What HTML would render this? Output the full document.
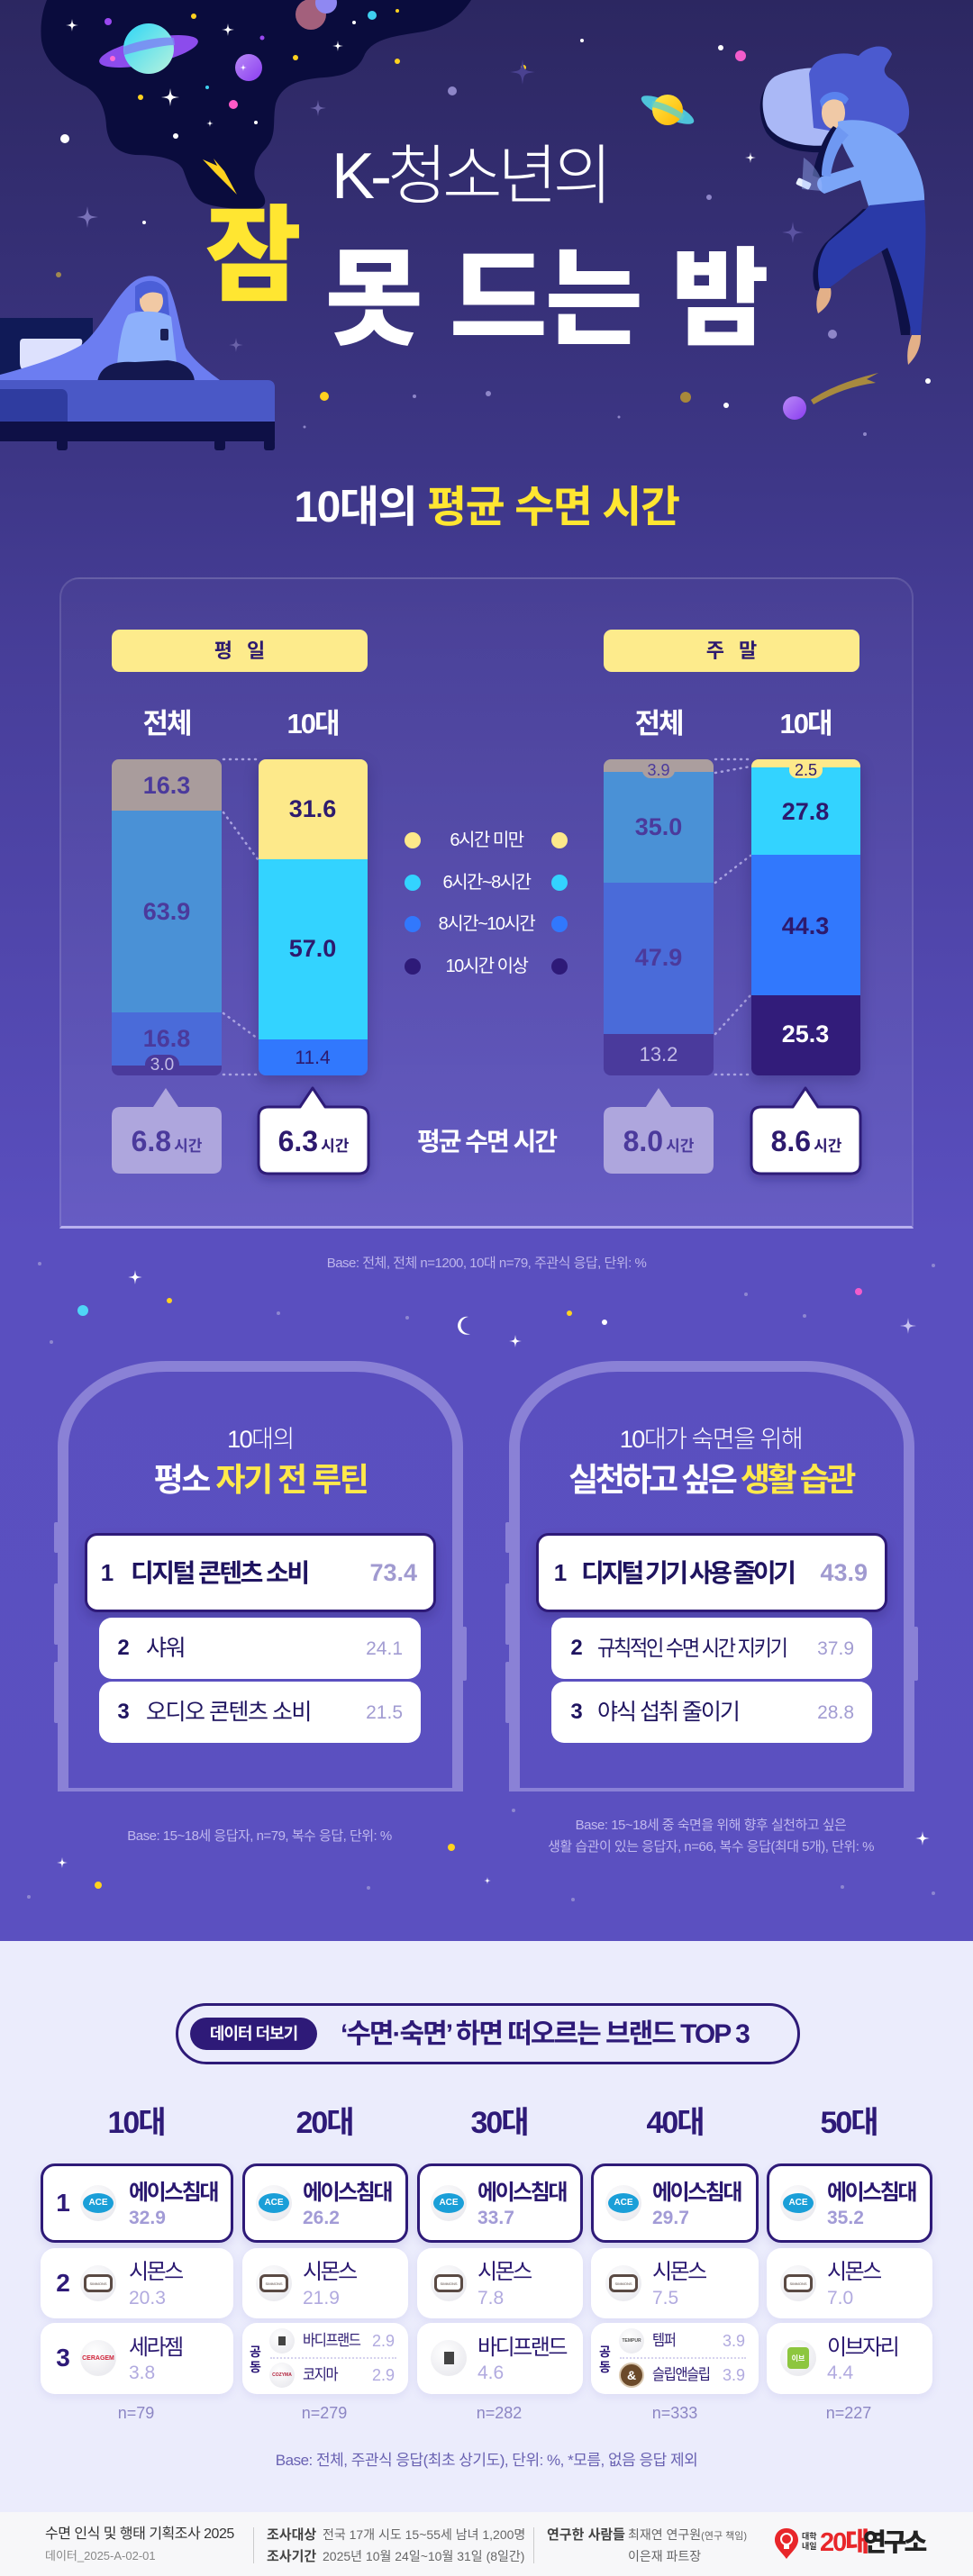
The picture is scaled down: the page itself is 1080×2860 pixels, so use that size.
<!DOCTYPE html>
<html><head><meta charset="utf-8">
<style>
*{margin:0;padding:0;box-sizing:border-box}
html,body{width:1080px;height:2860px;overflow:hidden}
body{font-family:"Liberation Sans","Noto Sans CJK KR",sans-serif;position:relative;background:#ebecfc}
.a{position:absolute;white-space:nowrap;line-height:1}
.c{transform:translateX(-50%)}
.sq{transform-origin:0 50%}
.bar{position:absolute;top:843px;height:351px;border-radius:8px;overflow:hidden;display:flex;flex-direction:column}
.bar div{flex:none}
.nb{font-weight:700;font-size:27px}
.pill{position:absolute;border-radius:9px;display:flex;align-items:center;justify-content:center;line-height:1}
.item{position:absolute;background:#fff;border-radius:14px}
.card{position:absolute;background:#fff;border-radius:16px;box-shadow:0 3px 10px rgba(90,80,190,.10)}
.r1{border:3px solid #2e1a78;box-shadow:0 4px 10px rgba(60,40,150,.12)}
.logo{position:absolute;border-radius:50%;background:radial-gradient(circle at 40% 35%,#ffffff,#e4e4ea);display:flex;align-items:center;justify-content:center;overflow:hidden}
.bn{position:absolute;white-space:nowrap;line-height:1;color:#2a1870;letter-spacing:-2.5px}
.bv{position:absolute;white-space:nowrap;line-height:1}
</style></head><body>

<!-- backgrounds -->
<div class="a" style="left:0;top:0;width:1080px;height:2155px;background:linear-gradient(to bottom,#2c2761 0px,#3e3788 540px,#463d97 700px,#5a4fbf 1370px,#5b50c0 2155px)"></div>
<div class="a" style="left:0;top:2155px;width:1080px;height:634px;background:#ebecfc"></div>
<div class="a" style="left:0;top:2789px;width:1080px;height:71px;background:#f7f7f9"></div>

<!-- header illustration -->
<svg class="a" style="left:0;top:0" width="1080" height="520" viewBox="0 0 1080 520">
<defs>
<path id="st" d="M0,-1 C0.12,-0.12 0.12,-0.12 1,0 C0.12,0.12 0.12,0.12 0,1 C-0.12,0.12 -0.12,0.12 -1,0 C-0.12,-0.12 -0.12,-0.12 0,-1Z"/>
<linearGradient id="sat" x1="0" y1="0" x2="1" y2="1"><stop offset="0" stop-color="#2fd6f6"/><stop offset="1" stop-color="#b8f2dd"/></linearGradient>
<linearGradient id="pp" x1="0" y1="0" x2="1" y2="1"><stop offset="0" stop-color="#b98af7"/><stop offset="1" stop-color="#8a3cf0"/></linearGradient>
<linearGradient id="ys" x1="0" y1="0" x2="1" y2="1"><stop offset="0" stop-color="#ffe94a"/><stop offset="1" stop-color="#ffb400"/></linearGradient>
</defs>
<path d="M52,0 L523,0 C510,20 495,30 470,35 C440,40 415,42 405,60 C398,78 385,84 360,86 C330,88 312,95 306,115 C302,135 308,150 295,165 C282,178 278,195 288,210 C298,222 296,232 282,232 C262,233 240,230 228,226 C212,220 208,200 203,188 C198,178 180,172 150,172 C130,170 120,160 118,140 C117,120 110,105 95,96 C70,85 50,70 46,45 C44,25 48,10 52,0 Z" fill="#0a0c3d"/>
<ellipse cx="165" cy="57" rx="56" ry="14" transform="rotate(-12 165 57)" fill="#8c4cec"/>
<circle cx="165" cy="54" r="28" fill="url(#sat)"/>
<path d="M137,52 C150,46 180,40 193,42 L194,50 C180,50 152,57 138,61Z" fill="#7b86f3" opacity=".85"/>
<circle cx="125" cy="65" r="3" fill="#ff6ad5"/>
<circle cx="276" cy="75" r="15" fill="url(#pp)"/>
<use href="#st" transform="translate(270,75) scale(4)" fill="#fff"/>
<circle cx="345" cy="16" r="17" fill="#a3607c"/>
<circle cx="362" cy="3" r="12" fill="#8f88f2"/>
<circle cx="413" cy="17" r="5" fill="#3fd0f0"/>
<circle cx="120" cy="24" r="4" fill="#9a48f0"/>
<circle cx="215" cy="18" r="3" fill="#ffd21f"/>
<circle cx="291" cy="42" r="2.5" fill="#9a48f0"/>
<circle cx="328" cy="64" r="3" fill="#ffd21f"/>
<circle cx="259" cy="116" r="5" fill="#ff5ac8"/>
<circle cx="156" cy="108" r="3" fill="#ffd21f"/>
<circle cx="230" cy="97" r="2" fill="#3fd0f0"/>
<circle cx="195" cy="151" r="3" fill="#fff"/>
<circle cx="284" cy="136" r="2" fill="#fff"/>
<circle cx="393" cy="25" r="2" fill="#fff"/>
<circle cx="441" cy="12" r="2" fill="#ffd21f"/>
<use href="#st" transform="translate(80,28) scale(7)" fill="#fff"/>
<use href="#st" transform="translate(253,33) scale(7)" fill="#fff"/>
<use href="#st" transform="translate(189,108) scale(10)" fill="#fff"/>
<use href="#st" transform="translate(375,51) scale(6)" fill="#fff"/>
<use href="#st" transform="translate(233,137) scale(4)" fill="#fff"/>
<path d="M225,177 L241,184 L237,176 L249,190 L263,216 L239,192 Z" fill="#ffd21f"/>
<circle cx="72" cy="154" r="5" fill="#fff"/>
<circle cx="160" cy="247" r="2" fill="#fff"/>
<circle cx="65" cy="305" r="3" fill="#a08850"/>
<circle cx="360" cy="440" r="5" fill="#ffd21f"/>
<circle cx="460" cy="440" r="2" fill="#8e86c8"/>
<circle cx="502" cy="101" r="5" fill="#8e86c8"/>
<circle cx="441" cy="68" r="3" fill="#ffd21f"/>
<circle cx="338" cy="474" r="1.5" fill="#8e86c8"/>
<use href="#st" transform="translate(97,241) scale(12)" fill="#7a72b8"/>
<use href="#st" transform="translate(353,120) scale(9)" fill="#6a62a8"/>
<use href="#st" transform="translate(262,383) scale(8)" fill="#6a62a8"/>
<circle cx="646" cy="45" r="2" fill="#fff"/>
<circle cx="581" cy="75" r="3" fill="#ffd21f"/>
<circle cx="822" cy="62" r="6" fill="#f25ccb"/>
<circle cx="800" cy="53" r="3" fill="#fff"/>
<use href="#st" transform="translate(580,80) scale(14)" fill="#4a4290"/>
<use href="#st" transform="translate(833,175) scale(6)" fill="#fff"/>
<circle cx="787" cy="219" r="3" fill="#8e86c8"/>
<use href="#st" transform="translate(880,258) scale(12)" fill="#5a52a0"/>
<circle cx="924" cy="371" r="5" fill="#8e86c8"/>
<circle cx="1030" cy="423" r="3" fill="#fff"/>
<circle cx="761" cy="441" r="6" fill="#a8883a"/>
<circle cx="806" cy="450" r="3" fill="#fff"/>
<circle cx="687" cy="463" r="1.5" fill="#8e86c8"/>
<circle cx="960" cy="482" r="2" fill="#8e86c8"/>
<circle cx="542" cy="437" r="3" fill="#8e86c8"/>
<ellipse cx="741" cy="122" rx="32" ry="9" transform="rotate(25 741 122)" fill="#4ec3da"/>
<circle cx="741" cy="122" r="17" fill="url(#ys)"/>
<path d="M724,112 C735,113 752,121 760,128 L757,134 C748,127 732,120 723,119Z" fill="#5fd0c8" opacity=".8"/>
<path d="M900,444 C920,430 950,420 975,414 L962,421 L972,425 C948,428 925,436 903,449Z" fill="#a88a3f"/>
<circle cx="882" cy="453" r="13" fill="url(#pp)"/>
<rect x="0" y="353" width="103" height="72" fill="#101a57"/>
<path d="M26,376 L88,376 C92,376 92,380 90,384 L86,410 L30,412 C24,412 22,408 22,402 L22,382 C22,378 23,376 26,376Z" fill="#dde1fd"/>
<path d="M0,425 L0,416 C30,408 70,396 92,382 C115,362 128,328 148,313 C160,304 178,303 187,318 C197,340 200,368 206,386 C216,402 236,416 248,425 Z" fill="#6c7df1"/>
<path d="M150,318 C162,308 180,310 186,325 L188,350 L150,345Z" fill="#4b5fd8"/>
<ellipse cx="168" cy="334" rx="13" ry="15" fill="#f1c9a4"/>
<path d="M154,324 C158,314 176,312 184,322 L182,328 C172,322 160,324 156,332Z" fill="#4b5fd8"/>
<path d="M142,350 C150,344 180,344 190,352 L196,403 L130,405 C132,380 136,360 142,350Z" fill="#8db0fb"/>
<rect x="178" y="365" width="9" height="13" rx="2" fill="#1a1f55"/>
<path d="M108,425 C110,408 124,400 150,402 L186,400 C206,402 216,412 216,425 Z" fill="#14184f"/>
<path d="M0,422 L297,422 C302,422 305,425 305,430 L305,469 L0,469Z" fill="#4a58c6"/>
<path d="M0,432 L68,432 C73,432 75,436 75,440 L75,469 L0,469Z" fill="#2f3ca0"/>
<rect x="0" y="468" width="305" height="22" fill="#0e1046"/>
<rect x="63" y="488" width="12" height="12" rx="3" fill="#0e1046"/>
<rect x="238" y="488" width="12" height="12" rx="3" fill="#0e1046"/>
<rect x="293" y="488" width="12" height="12" rx="3" fill="#0e1046"/>
<path d="M855,92 C875,80 912,78 922,86 L926,168 C896,172 862,166 850,146 C840,126 842,102 855,92Z" fill="#0e1146"/>
<path d="M860,85 C880,75 915,72 925,80 L930,160 C900,165 865,160 852,140 C843,120 845,95 860,85Z" fill="#aab8f6"/>
<path d="M898,82 C903,62 933,55 953,62 C963,50 985,47 990,60 C986,72 976,76 986,86 C1006,96 1015,122 1005,142 C995,156 970,150 950,150 L903,142 Z" fill="#4b5acf"/>
<ellipse cx="925" cy="125" rx="13" ry="18" fill="#f0c9a6"/>
<path d="M910,112 C915,100 935,98 942,110 L938,116 C930,108 918,108 912,120Z" fill="#5a82ee"/>
<path d="M925,140 C915,150 905,175 902,195 L915,200 C918,180 925,160 938,148Z" fill="#0e1146"/>
<path d="M930,135 C950,130 990,135 1005,160 C1020,185 1027,205 1026,225 L965,232 L955,200 L915,215 C905,210 905,200 912,196 L948,185 C940,170 930,155 930,135Z" fill="#7ba5f7"/>
<path d="M930,140 C920,155 912,175 912,195 L922,196 C924,178 932,160 942,150Z" fill="#6f98f2"/>
<rect x="884" y="200" width="16" height="8" rx="2" transform="rotate(25 892 204)" fill="#e8f0ff"/>
<path d="M892,175 C900,180 915,195 912,212 L890,210Z" fill="#9fb8ff" opacity=".4"/>
<path d="M958,232 L1018,228 C1016,270 1012,320 1010,372 L1000,372 C994,330 986,300 978,278 L940,302 C930,312 921,318 914,324 L905,322 C898,302 906,282 916,270 C930,256 948,242 958,232Z" fill="#0e1146"/>
<path d="M965,228 L1026,222 C1030,262 1025,320 1022,372 L1012,372 C1005,330 995,300 985,275 L945,300 C935,310 925,316 920,320 L910,320 C905,300 910,280 920,268 C935,255 955,240 965,228Z" fill="#2a3aa8"/>
<path d="M910,320 L922,320 C924,330 920,340 908,348 C905,340 906,330 910,320Z" fill="#e3b088"/>
<path d="M1012,372 L1022,372 C1022,385 1018,395 1008,405 C1006,392 1008,382 1012,372Z" fill="#e3b088"/>
</svg>

<!-- header titles -->
<div class="a" style="left:368px;top:160px;font-size:72px;font-weight:300;color:#fff;letter-spacing:-5px">K-청소년의</div>
<div class="a" style="left:228px;top:226px;font-size:116px;font-weight:900;color:#ffe631">잠</div>
<div class="a" style="left:361px;top:274px;font-size:118px;font-weight:900;color:#fff">못</div>
<div class="a" style="left:499px;top:274px;font-size:118px;font-weight:900;color:#fff">드</div>
<div class="a" style="left:605px;top:274px;font-size:118px;font-weight:900;color:#fff">는</div>
<div class="a" style="left:745px;top:274px;font-size:118px;font-weight:900;color:#fff">밤</div>
<div class="a c" style="left:540px;top:540px;font-size:48px;font-weight:700;color:#fff;letter-spacing:-1.5px">10대의 <span style="color:#ffe631">평균 수면 시간</span></div>

<!-- chart panel -->
<div class="a" style="left:66px;top:641px;width:948px;height:723px;border-radius:22px 22px 0 0;border:2px solid rgba(255,255,255,.12);border-bottom:3px solid #b8b0ee;background:linear-gradient(rgba(255,255,255,.025),rgba(255,255,255,.08))"></div>
<div class="pill" style="left:124px;top:699px;width:284px;height:47px;background:#fdeb8c;color:#2d1a6e;font-size:22px;font-weight:700;letter-spacing:16px;padding-left:16px">평일</div>
<div class="pill" style="left:670px;top:699px;width:284px;height:47px;background:#fdeb8c;color:#2d1a6e;font-size:22px;font-weight:700;letter-spacing:16px;padding-left:16px">주말</div>
<div class="a c" style="left:185px;top:788px;font-size:31px;font-weight:700;color:#fff;letter-spacing:-2px">전체</div>
<div class="a c" style="left:347px;top:788px;font-size:31px;font-weight:700;color:#fff;letter-spacing:-2px">10대</div>
<div class="a c" style="left:731px;top:788px;font-size:31px;font-weight:700;color:#fff;letter-spacing:-2px">전체</div>
<div class="a c" style="left:894px;top:788px;font-size:31px;font-weight:700;color:#fff;letter-spacing:-2px">10대</div>

<svg class="a" style="left:0;top:0" width="1080" height="1300" viewBox="0 0 1080 1300">
<g stroke="#a9a2e0" stroke-width="2.5" stroke-dasharray="1 6" stroke-linecap="round" fill="none">
<line x1="248" y1="843" x2="286" y2="843"/>
<line x1="248" y1="902" x2="286" y2="954"/>
<line x1="248" y1="1125" x2="286" y2="1153"/>
<line x1="248" y1="1193" x2="286" y2="1193"/>
<line x1="794" y1="843" x2="833" y2="843"/>
<line x1="794" y1="858" x2="833" y2="851"/>
<line x1="794" y1="980" x2="833" y2="950"/>
<line x1="794" y1="1148" x2="833" y2="1105"/>
<line x1="794" y1="1193" x2="833" y2="1193"/>
</g>
</svg>

<div class="bar" style="left:124px;width:122px">
<div style="height:57.2px;background:#a99c9c"></div>
<div style="height:224.3px;background:#4a91d6"></div>
<div style="height:59px;background:#4a6bd9"></div>
<div style="height:10.5px;background:#4a3a9c"></div>
</div>
<div class="bar" style="left:287px;width:121px;box-shadow:0 6px 16px rgba(20,10,60,.25)">
<div style="height:110.9px;background:#fde98a"></div>
<div style="height:200.1px;background:#33d3ff"></div>
<div style="height:40px;background:#3178fd"></div>
</div>
<div class="bar" style="left:670px;width:122px">
<div style="height:13.7px;background:#ab9e9e"></div>
<div style="height:122.9px;background:#4a91d6"></div>
<div style="height:168.1px;background:#4a6bd9"></div>
<div style="height:46.3px;background:#4a3a9c"></div>
</div>
<div class="bar" style="left:834px;width:121px;box-shadow:0 6px 16px rgba(20,10,60,.25)">
<div style="height:8.8px;background:#fde98a"></div>
<div style="height:97.6px;background:#33d3ff"></div>
<div style="height:155.5px;background:#3178fd"></div>
<div style="height:89.1px;background:#321c7a"></div>
</div>

<div class="a c nb" style="left:185px;top:859px;color:#4b3a9c">16.3</div>
<div class="a c nb" style="left:185px;top:999px;color:#4b3a9c">63.9</div>
<div class="a c nb" style="left:185px;top:1140px;color:#4b3a9c">16.8</div>
<div class="pill" style="left:161px;top:1171px;width:38px;height:22px;border-radius:11px;background:#4a3a9c;color:#c3bce6;font-size:19px">3.0</div>
<div class="a c nb" style="left:347px;top:885px;color:#2d1a6e">31.6</div>
<div class="a c nb" style="left:347px;top:1040px;color:#2d1a6e">57.0</div>
<div class="a c" style="left:347px;top:1164px;font-size:21px;color:#2d1a6e">11.4</div>
<div class="pill" style="left:713px;top:845px;width:36px;height:19px;border-radius:9px;background:#ab9e9e;color:#4b3a9c;font-size:18px">3.9</div>
<div class="a c nb" style="left:731px;top:905px;color:#4b3a9c">35.0</div>
<div class="a c nb" style="left:731px;top:1050px;color:#4b3a9c">47.9</div>
<div class="a c" style="left:731px;top:1160px;font-size:22px;color:#c3bce6">13.2</div>
<div class="pill" style="left:876px;top:845px;width:37px;height:19px;border-radius:9px;background:#fde98a;color:#2d1a6e;font-size:18px">2.5</div>
<div class="a c nb" style="left:894px;top:888px;color:#2d1a6e">27.8</div>
<div class="a c nb" style="left:894px;top:1015px;color:#2d1a6e">44.3</div>
<div class="a c nb" style="left:894px;top:1135px;color:#fff">25.3</div>

<svg class="a" style="left:440px;top:915px" width="200" height="180" viewBox="440 915 200 180">
<circle cx="458" cy="933" r="9" fill="#fde98a"/><circle cx="621" cy="933" r="9" fill="#fde98a"/>
<circle cx="458" cy="980" r="9" fill="#33d3ff"/><circle cx="621" cy="980" r="9" fill="#33d3ff"/>
<circle cx="458" cy="1026" r="9" fill="#3178fd"/><circle cx="621" cy="1026" r="9" fill="#3178fd"/>
<circle cx="458" cy="1073" r="9" fill="#2e1a78"/><circle cx="621" cy="1073" r="9" fill="#2e1a78"/>
</svg>
<div class="a c" style="left:540px;top:923px;font-size:20px;color:#fff;letter-spacing:-1.5px">6시간 미만</div>
<div class="a c" style="left:540px;top:970px;font-size:20px;color:#fff;letter-spacing:-1.5px">6시간~8시간</div>
<div class="a c" style="left:540px;top:1016px;font-size:20px;color:#fff;letter-spacing:-1.5px">8시간~10시간</div>
<div class="a c" style="left:540px;top:1063px;font-size:20px;color:#fff;letter-spacing:-1.5px">10시간 이상</div>

<svg class="a" style="left:0;top:1190px" width="1080" height="140" viewBox="0 1190 1080 140">
<defs><filter id="sh" x="-20%" y="-20%" width="140%" height="150%"><feDropShadow dx="0" dy="5" stdDeviation="6" flood-color="#1a0f50" flood-opacity=".3"/></filter></defs>
<path d="M134,1229 L170,1229 L184,1208 L198,1229 L236,1229 Q246,1229 246,1239 L246,1293 Q246,1303 236,1303 L134,1303 Q124,1303 124,1293 L124,1239 Q124,1229 134,1229Z" fill="#aea6dd"/>
<path d="M298,1229 L333,1229 L347,1208 L361,1229 L398,1229 Q409,1229 409,1240 L409,1292 Q409,1303 398,1303 L298,1303 Q287,1303 287,1292 L287,1240 Q287,1229 298,1229Z" fill="#fff" stroke="#2e1a78" stroke-width="3" stroke-linejoin="round" filter="url(#sh)"/>
<path d="M680,1229 L717,1229 L731,1208 L745,1229 L782,1229 Q792,1229 792,1239 L792,1293 Q792,1303 782,1303 L680,1303 Q670,1303 670,1293 L670,1239 Q670,1229 680,1229Z" fill="#aea6dd"/>
<path d="M845,1229 L880,1229 L894,1208 L908,1229 L944,1229 Q955,1229 955,1240 L955,1292 Q955,1303 944,1303 L845,1303 Q834,1303 834,1292 L834,1240 Q834,1229 845,1229Z" fill="#fff" stroke="#2e1a78" stroke-width="3" stroke-linejoin="round" filter="url(#sh)"/>
</svg>
<div class="a c" style="left:185px;top:1251px;font-size:32px;font-weight:700;color:#4b3a9c">6.8<span style="font-size:17px;margin-left:3px">시간</span></div>
<div class="a c" style="left:348px;top:1251px;font-size:32px;font-weight:700;color:#2d1a6e">6.3<span style="font-size:17px;margin-left:3px">시간</span></div>
<div class="a c" style="left:731px;top:1251px;font-size:32px;font-weight:700;color:#4b3a9c">8.0<span style="font-size:17px;margin-left:3px">시간</span></div>
<div class="a c" style="left:895px;top:1251px;font-size:32px;font-weight:700;color:#2d1a6e">8.6<span style="font-size:17px;margin-left:3px">시간</span></div>
<div class="a c" style="left:540px;top:1254px;font-size:28px;font-weight:700;color:#fff;letter-spacing:-2px">평균 수면 시간</div>
<div class="a c" style="left:540px;top:1395px;font-size:15px;color:#bdb5ec;letter-spacing:-.5px">Base: 전체, 전체 n=1200, 10대 n=79, 주관식 응답, 단위: %</div>

<svg class="a" style="left:0;top:1380px" width="1080" height="775" viewBox="0 1380 1080 775">
<defs><path id="st2" d="M0,-1 C0.12,-0.12 0.12,-0.12 1,0 C0.12,0.12 0.12,0.12 0,1 C-0.12,0.12 -0.12,0.12 -1,0 C-0.12,-0.12 -0.12,-0.12 0,-1Z"/></defs>
<use href="#st2" transform="translate(150,1418) scale(8)" fill="#fff"/>
<use href="#st2" transform="translate(572,1489) scale(7)" fill="#fff"/>
<use href="#st2" transform="translate(1008,1472) scale(9)" fill="#c8c2f0"/>
<use href="#st2" transform="translate(69,2068) scale(6)" fill="#fff"/>
<use href="#st2" transform="translate(1024,2041) scale(8)" fill="#fff"/>
<use href="#st2" transform="translate(541,2088) scale(4)" fill="#fff"/>
<circle cx="92" cy="1455" r="6" fill="#4fd6f6"/>
<circle cx="188" cy="1444" r="3" fill="#ffd21f"/>
<circle cx="953" cy="1434" r="4" fill="#f25ccb"/>
<circle cx="632" cy="1458" r="3" fill="#ffd21f"/>
<circle cx="671" cy="1468" r="3" fill="#fff"/>
<circle cx="44" cy="1403" r="2" fill="#8e86d0"/>
<circle cx="309" cy="1458" r="2" fill="#8e86d0"/>
<circle cx="57" cy="1490" r="2" fill="#8e86d0"/>
<circle cx="828" cy="1437" r="2" fill="#8e86d0"/>
<circle cx="893" cy="1461" r="2" fill="#8e86d0"/>
<circle cx="452" cy="1463" r="2" fill="#8e86d0"/>
<circle cx="1036" cy="1405" r="2" fill="#8e86d0"/>
<path d="M520,1462 A10,10 0 1,0 522,1481 A8,8 0 1,1 520,1462Z" fill="#fff"/>
<circle cx="501" cy="2051" r="4" fill="#ffd21f"/>
<circle cx="109" cy="2093" r="4" fill="#ffd21f"/>
<circle cx="409" cy="2096" r="2" fill="#8e86d0"/>
<circle cx="32" cy="2106" r="2" fill="#8e86d0"/>
<circle cx="1036" cy="2102" r="2" fill="#8e86d0"/>
<circle cx="636" cy="2109" r="2" fill="#8e86d0"/>
<circle cx="935" cy="2095" r="2" fill="#8e86d0"/>
<circle cx="570" cy="2010" r="2" fill="#8e86d0"/>
</svg>

<!-- phone frames -->
<div class="a" style="left:64px;top:1511px;width:450px;height:478px;border:12px solid #8a81d6;border-bottom:4px solid #8a81d6;border-radius:120px 120px 0 0/95px 95px 0 0"></div>
<div class="a" style="left:565px;top:1511px;width:450px;height:478px;border:12px solid #8a81d6;border-bottom:4px solid #8a81d6;border-radius:120px 120px 0 0/95px 95px 0 0"></div>
<div class="a" style="left:60px;top:1690px;width:5px;height:34px;background:#8a81d6;border-radius:2px"></div>
<div class="a" style="left:60px;top:1758px;width:5px;height:68px;background:#8a81d6;border-radius:2px"></div>
<div class="a" style="left:60px;top:1845px;width:5px;height:68px;background:#8a81d6;border-radius:2px"></div>
<div class="a" style="left:513px;top:1806px;width:5px;height:60px;background:#8a81d6;border-radius:2px"></div>
<div class="a" style="left:561px;top:1690px;width:5px;height:34px;background:#8a81d6;border-radius:2px"></div>
<div class="a" style="left:561px;top:1758px;width:5px;height:68px;background:#8a81d6;border-radius:2px"></div>
<div class="a" style="left:561px;top:1845px;width:5px;height:68px;background:#8a81d6;border-radius:2px"></div>
<div class="a" style="left:1014px;top:1806px;width:5px;height:60px;background:#8a81d6;border-radius:2px"></div>

<div class="a c" style="left:289px;top:1585px;font-size:27px;font-weight:300;color:#fff;letter-spacing:-1.5px">10대의</div>
<div class="a c" style="left:289px;top:1625px;font-size:36px;font-weight:700;color:#fff;letter-spacing:-2.5px">평소 <span style="color:#ffe94a">자기 전 루틴</span></div>
<div class="a c" style="left:789px;top:1585px;font-size:27px;font-weight:300;color:#fff;letter-spacing:-1.5px">10대가 숙면을 위해</div>
<div class="a c" style="left:789px;top:1625px;font-size:36px;font-weight:700;color:#fff;letter-spacing:-3.5px">실천하고 싶은 <span style="color:#ffe94a">생활 습관</span></div>

<!-- left list -->
<div class="item" style="left:94px;top:1702px;width:390px;height:88px;border:3px solid #2e1a78;box-shadow:0 6px 12px rgba(20,10,60,.2)"></div>
<div class="a c" style="left:119px;top:1733px;font-size:26px;font-weight:700;color:#1f1460">1</div>
<div class="a" style="left:145px;top:1733px;font-size:28px;font-weight:700;color:#1f1460;letter-spacing:-2.5px">디지털 콘텐츠 소비</div>
<div class="a" style="right:617px;top:1733px;font-size:27px;font-weight:700;color:#a09ad0">73.4</div>
<div class="item" style="left:110px;top:1796px;width:357px;height:68px"></div>
<div class="a c" style="left:137px;top:1818px;font-size:24px;font-weight:700;color:#1f1460">2</div>
<div class="a" style="left:162px;top:1818px;font-size:25px;color:#1f1460;letter-spacing:-1.5px">샤워</div>
<div class="a" style="right:633px;top:1820px;font-size:21px;color:#a29cd2">24.1</div>
<div class="item" style="left:110px;top:1867px;width:357px;height:68px"></div>
<div class="a c" style="left:137px;top:1889px;font-size:24px;font-weight:700;color:#1f1460">3</div>
<div class="a" style="left:162px;top:1889px;font-size:25px;color:#1f1460;letter-spacing:-1.5px">오디오 콘텐츠 소비</div>
<div class="a" style="right:633px;top:1891px;font-size:21px;color:#a29cd2">21.5</div>

<!-- right list -->
<div class="item" style="left:595px;top:1702px;width:390px;height:88px;border:3px solid #2e1a78;box-shadow:0 6px 12px rgba(20,10,60,.2)"></div>
<div class="a c" style="left:622px;top:1733px;font-size:26px;font-weight:700;color:#1f1460">1</div>
<div class="a" style="left:645px;top:1733px;font-size:28px;font-weight:700;color:#1f1460;letter-spacing:-3.5px">디지털 기기 사용 줄이기</div>
<div class="a" style="right:117px;top:1733px;font-size:27px;font-weight:700;color:#a09ad0">43.9</div>
<div class="item" style="left:612px;top:1796px;width:356px;height:68px"></div>
<div class="a c" style="left:640px;top:1818px;font-size:24px;font-weight:700;color:#1f1460">2</div>
<div class="a sq" style="left:663px;top:1819px;font-size:24px;color:#1f1460;letter-spacing:-2.5px;transform:scaleX(.92)">규칙적인 수면 시간 지키기</div>
<div class="a" style="right:132px;top:1820px;font-size:21px;color:#a29cd2">37.9</div>
<div class="item" style="left:612px;top:1867px;width:356px;height:68px"></div>
<div class="a c" style="left:640px;top:1889px;font-size:24px;font-weight:700;color:#1f1460">3</div>
<div class="a" style="left:663px;top:1889px;font-size:25px;color:#1f1460;letter-spacing:-2px">야식 섭취 줄이기</div>
<div class="a" style="right:132px;top:1891px;font-size:21px;color:#a29cd2">28.8</div>

<div class="a c" style="left:288px;top:2031px;font-size:15px;color:#c0b8ee;letter-spacing:-.5px">Base: 15~18세 응답자, n=79, 복수 응답, 단위: %</div>
<div class="a c" style="left:789px;top:2019px;font-size:15px;color:#c0b8ee;letter-spacing:-.5px">Base: 15~18세 중 숙면을 위해 향후 실천하고 싶은</div>
<div class="a c" style="left:789px;top:2043px;font-size:15px;color:#c0b8ee;letter-spacing:-.5px">생활 습관이 있는 응답자, n=66, 복수 응답(최대 5개), 단위: %</div>

<!-- brand section -->
<div class="a" style="left:195px;top:2224px;width:693px;height:68px;border:3px solid #2e1a78;border-radius:34px"></div>
<div class="pill" style="left:211px;top:2240px;width:141px;height:36px;border-radius:18px;background:#2e1a78;color:#fff;font-size:18px;font-weight:700;letter-spacing:-1px">데이터 더보기</div>
<div class="a" style="left:378px;top:2244px;font-size:30px;font-weight:700;color:#2e1a78;letter-spacing:-2px">‘수면·숙면’ 하면 떠오르는 브랜드 TOP 3</div>

<div class="a c" style="left:151px;top:2340px;font-size:34px;font-weight:700;color:#2e1a78;letter-spacing:-2px">10대</div>
<div class="a c" style="left:360px;top:2340px;font-size:34px;font-weight:700;color:#2e1a78;letter-spacing:-2px">20대</div>
<div class="a c" style="left:554px;top:2340px;font-size:34px;font-weight:700;color:#2e1a78;letter-spacing:-2px">30대</div>
<div class="a c" style="left:749px;top:2340px;font-size:34px;font-weight:700;color:#2e1a78;letter-spacing:-2px">40대</div>
<div class="a c" style="left:942px;top:2340px;font-size:34px;font-weight:700;color:#2e1a78;letter-spacing:-2px">50대</div>

<div class="card r1" style="left:45px;top:2402px;width:214px;height:88px"></div>
<div class="card r1" style="left:269px;top:2402px;width:184px;height:88px"></div>
<div class="card r1" style="left:463px;top:2402px;width:184px;height:88px"></div>
<div class="card r1" style="left:656px;top:2402px;width:186px;height:88px"></div>
<div class="card r1" style="left:851px;top:2402px;width:184px;height:88px"></div>
<div class="card" style="left:45px;top:2496px;width:214px;height:78px"></div>
<div class="card" style="left:269px;top:2496px;width:184px;height:78px"></div>
<div class="card" style="left:463px;top:2496px;width:184px;height:78px"></div>
<div class="card" style="left:656px;top:2496px;width:186px;height:78px"></div>
<div class="card" style="left:851px;top:2496px;width:184px;height:78px"></div>
<div class="card" style="left:45px;top:2579px;width:214px;height:79px"></div>
<div class="card" style="left:269px;top:2579px;width:184px;height:79px"></div>
<div class="card" style="left:463px;top:2579px;width:184px;height:79px"></div>
<div class="card" style="left:656px;top:2579px;width:186px;height:79px"></div>
<div class="card" style="left:851px;top:2579px;width:184px;height:79px"></div>

<div class="a c" style="left:70px;top:2432px;font-size:28px;font-weight:700;color:#2e1a78">1</div>
<div class="a c" style="left:70px;top:2521px;font-size:28px;font-weight:700;color:#2e1a78">2</div>
<div class="a c" style="left:70px;top:2604px;font-size:28px;font-weight:700;color:#2e1a78">3</div>

<div class="logo" style="left:89px;top:2426px;width:40px;height:40px"><div style="width:34px;height:22px;border-radius:50%;background:#1a9fd8;color:#fff;font-size:10px;font-weight:700;display:flex;align-items:center;justify-content:center;line-height:1">ACE</div></div>
<div class="logo" style="left:284px;top:2426px;width:40px;height:40px"><div style="width:34px;height:22px;border-radius:50%;background:#1a9fd8;color:#fff;font-size:10px;font-weight:700;display:flex;align-items:center;justify-content:center;line-height:1">ACE</div></div>
<div class="logo" style="left:478px;top:2426px;width:40px;height:40px"><div style="width:34px;height:22px;border-radius:50%;background:#1a9fd8;color:#fff;font-size:10px;font-weight:700;display:flex;align-items:center;justify-content:center;line-height:1">ACE</div></div>
<div class="logo" style="left:672px;top:2426px;width:40px;height:40px"><div style="width:34px;height:22px;border-radius:50%;background:#1a9fd8;color:#fff;font-size:10px;font-weight:700;display:flex;align-items:center;justify-content:center;line-height:1">ACE</div></div>
<div class="logo" style="left:866px;top:2426px;width:40px;height:40px"><div style="width:34px;height:22px;border-radius:50%;background:#1a9fd8;color:#fff;font-size:10px;font-weight:700;display:flex;align-items:center;justify-content:center;line-height:1">ACE</div></div>
<div class="logo" style="left:89px;top:2515px;width:40px;height:40px"><div style="width:32px;height:20px;border:3px solid #5a4a44;border-radius:6px;background:#fff;font-size:4px;color:#5a4a44;display:flex;align-items:center;justify-content:center">SIMMONS</div></div>
<div class="logo" style="left:284px;top:2515px;width:40px;height:40px"><div style="width:32px;height:20px;border:3px solid #5a4a44;border-radius:6px;background:#fff;font-size:4px;color:#5a4a44;display:flex;align-items:center;justify-content:center">SIMMONS</div></div>
<div class="logo" style="left:478px;top:2515px;width:40px;height:40px"><div style="width:32px;height:20px;border:3px solid #5a4a44;border-radius:6px;background:#fff;font-size:4px;color:#5a4a44;display:flex;align-items:center;justify-content:center">SIMMONS</div></div>
<div class="logo" style="left:672px;top:2515px;width:40px;height:40px"><div style="width:32px;height:20px;border:3px solid #5a4a44;border-radius:6px;background:#fff;font-size:4px;color:#5a4a44;display:flex;align-items:center;justify-content:center">SIMMONS</div></div>
<div class="logo" style="left:866px;top:2515px;width:40px;height:40px"><div style="width:32px;height:20px;border:3px solid #5a4a44;border-radius:6px;background:#fff;font-size:4px;color:#5a4a44;display:flex;align-items:center;justify-content:center">SIMMONS</div></div>
<div class="logo" style="left:89px;top:2598px;width:40px;height:40px;font-size:7px;font-weight:700;color:#d0243a">CERAGEM</div>
<div class="logo" style="left:478px;top:2598px;width:40px;height:40px"><div style="width:11px;height:14px;background:#444"></div></div>
<div class="logo" style="left:866px;top:2598px;width:40px;height:40px"><div style="width:24px;height:24px;border-radius:4px;background:#8dc63f;color:#fff;font-size:8px;font-weight:700;display:flex;align-items:center;justify-content:center">이브</div></div>
<div class="logo" style="left:299px;top:2585px;width:28px;height:28px"><div style="width:8px;height:10px;background:#444"></div></div>
<div class="logo" style="left:299px;top:2623px;width:28px;height:28px;font-size:5px;font-weight:700;color:#b0203a">COZYMA</div>
<div class="logo" style="left:687px;top:2585px;width:28px;height:28px;font-size:5px;font-weight:700;color:#555">TEMPUR</div>
<div class="logo" style="left:687px;top:2623px;width:28px;height:28px;background:#6b4a2a;border:2px solid #d9c8b0;color:#fff;font-size:14px;font-weight:700">&amp;</div>

<div class="bn" style="left:143px;top:2423px;font-size:24px;font-weight:700">에이스침대</div>
<div class="bv" style="left:143px;top:2452px;font-size:21px;font-weight:700;color:#a29bd6">32.9</div>
<div class="bn" style="left:336px;top:2423px;font-size:24px;font-weight:700">에이스침대</div>
<div class="bv" style="left:336px;top:2452px;font-size:21px;font-weight:700;color:#a29bd6">26.2</div>
<div class="bn" style="left:530px;top:2423px;font-size:24px;font-weight:700">에이스침대</div>
<div class="bv" style="left:530px;top:2452px;font-size:21px;font-weight:700;color:#a29bd6">33.7</div>
<div class="bn" style="left:724px;top:2423px;font-size:24px;font-weight:700">에이스침대</div>
<div class="bv" style="left:724px;top:2452px;font-size:21px;font-weight:700;color:#a29bd6">29.7</div>
<div class="bn" style="left:918px;top:2423px;font-size:24px;font-weight:700">에이스침대</div>
<div class="bv" style="left:918px;top:2452px;font-size:21px;font-weight:700;color:#a29bd6">35.2</div>

<div class="bn" style="left:143px;top:2511px;font-size:24px">시몬스</div>
<div class="bv" style="left:143px;top:2541px;font-size:21px;color:#b1aadf">20.3</div>
<div class="bn" style="left:336px;top:2511px;font-size:24px">시몬스</div>
<div class="bv" style="left:336px;top:2541px;font-size:21px;color:#b1aadf">21.9</div>
<div class="bn" style="left:530px;top:2511px;font-size:24px">시몬스</div>
<div class="bv" style="left:530px;top:2541px;font-size:21px;color:#b1aadf">7.8</div>
<div class="bn" style="left:724px;top:2511px;font-size:24px">시몬스</div>
<div class="bv" style="left:724px;top:2541px;font-size:21px;color:#b1aadf">7.5</div>
<div class="bn" style="left:918px;top:2511px;font-size:24px">시몬스</div>
<div class="bv" style="left:918px;top:2541px;font-size:21px;color:#b1aadf">7.0</div>

<div class="bn" style="left:143px;top:2595px;font-size:24px">세라젬</div>
<div class="bv" style="left:143px;top:2624px;font-size:21px;color:#b1aadf">3.8</div>
<div class="bn" style="left:530px;top:2595px;font-size:24px">바디프랜드</div>
<div class="bv" style="left:530px;top:2624px;font-size:21px;color:#b1aadf">4.6</div>
<div class="bn" style="left:918px;top:2595px;font-size:24px">이브자리</div>
<div class="bv" style="left:918px;top:2624px;font-size:21px;color:#b1aadf">4.4</div>

<div class="a" style="left:277px;top:2603px;font-size:14px;font-weight:700;color:#2e1a78;line-height:17px;width:14px;white-space:normal">공<br>동</div>
<div class="bn sq" style="left:336px;top:2590px;font-size:17px;letter-spacing:-1.5px;transform:scaleX(.9)">바디프랜드</div>
<div class="bv" style="right:642px;top:2590px;font-size:18px;color:#b1aadf">2.9</div>
<div class="a" style="left:300px;top:2617px;width:140px;border-top:2px dotted #d6d3ee"></div>
<div class="bn sq" style="left:336px;top:2628px;font-size:17px;letter-spacing:-1.5px;transform:scaleX(.9)">코지마</div>
<div class="bv" style="right:642px;top:2628px;font-size:18px;color:#b1aadf">2.9</div>
<div class="a" style="left:665px;top:2603px;font-size:14px;font-weight:700;color:#2e1a78;line-height:17px;width:14px;white-space:normal">공<br>동</div>
<div class="bn sq" style="left:724px;top:2590px;font-size:17px;letter-spacing:-1.5px;transform:scaleX(.9)">템퍼</div>
<div class="bv" style="right:253px;top:2590px;font-size:18px;color:#b1aadf">3.9</div>
<div class="a" style="left:688px;top:2617px;width:140px;border-top:2px dotted #d6d3ee"></div>
<div class="bn sq" style="left:724px;top:2628px;font-size:17px;letter-spacing:-1.5px;transform:scaleX(.9)">슬립앤슬립</div>
<div class="bv" style="right:253px;top:2628px;font-size:18px;color:#b1aadf">3.9</div>

<div class="a c" style="left:151px;top:2670px;font-size:18px;color:#8c86c4">n=79</div>
<div class="a c" style="left:360px;top:2670px;font-size:18px;color:#8c86c4">n=279</div>
<div class="a c" style="left:554px;top:2670px;font-size:18px;color:#8c86c4">n=282</div>
<div class="a c" style="left:749px;top:2670px;font-size:18px;color:#8c86c4">n=333</div>
<div class="a c" style="left:942px;top:2670px;font-size:18px;color:#8c86c4">n=227</div>
<div class="a c" style="left:540px;top:2723px;font-size:17px;color:#6962b2;letter-spacing:-.5px">Base: 전체, 주관식 응답(최초 상기도), 단위: %, *모름, 없음 응답 제외</div>

<!-- footer -->
<div class="a" style="left:50px;top:2806px;font-size:16px;color:#333;letter-spacing:-.5px">수면 인식 및 행태 기획조사 2025</div>
<div class="a" style="left:50px;top:2831px;font-size:13px;color:#888">데이터_2025-A-02-01</div>
<div class="a" style="left:281px;top:2806px;width:1px;height:40px;background:#ccc"></div>
<div class="a" style="left:296px;top:2807px;font-size:15px;font-weight:700;color:#444">조사대상</div>
<div class="a" style="left:358px;top:2807px;font-size:14px;color:#666">전국 17개 시도 15~55세 남녀 1,200명</div>
<div class="a" style="left:296px;top:2831px;font-size:15px;font-weight:700;color:#444">조사기간</div>
<div class="a" style="left:358px;top:2831px;font-size:14px;color:#666">2025년 10월 24일~10월 31일 (8일간)</div>
<div class="a" style="left:592px;top:2806px;width:1px;height:40px;background:#ccc"></div>
<div class="a" style="left:607px;top:2807px;font-size:15px;font-weight:700;color:#444">연구한 사람들</div>
<div class="a" style="left:697px;top:2807px;font-size:14px;color:#666">최재연 연구원<span style="font-size:11px">(연구 책임)</span></div>
<div class="a" style="left:697px;top:2831px;font-size:14px;color:#666">이은재 파트장</div>
<svg class="a" style="left:858px;top:2806px" width="30" height="36" viewBox="0 0 30 36"><path d="M15,1 C23,1 28,7 28,14 C28,22 20,28 15,35 C10,28 2,22 2,14 C2,7 7,1 15,1Z" fill="#e8262a"/><circle cx="15" cy="13" r="6" fill="none" stroke="#fff" stroke-width="2"/><rect x="12" y="19" width="6" height="5" fill="#fff"/></svg>
<div class="a" style="left:890px;top:2811px;font-size:9px;font-weight:700;color:#333;line-height:11px;white-space:normal;width:20px">대학<br>내일</div>
<div class="a" style="left:910px;top:2809px;font-size:29px;font-weight:900;color:#e8262a;letter-spacing:-2px">20대</div>
<div class="a" style="left:958px;top:2809px;font-size:28px;font-weight:900;color:#222;letter-spacing:-3px">연구소</div>

</body></html>
